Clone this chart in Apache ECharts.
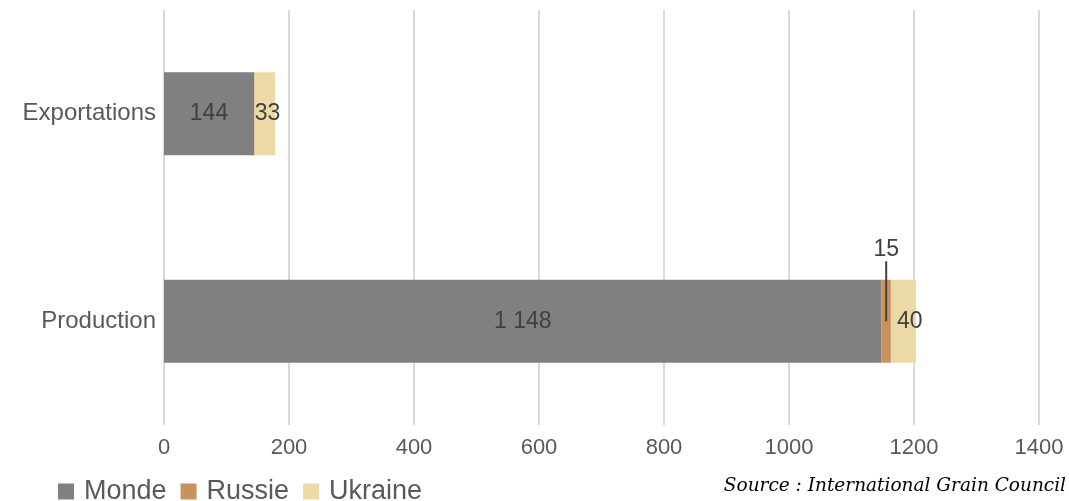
<!DOCTYPE html>
<html>
<head>
<meta charset="utf-8">
<script src="https://cdn.jsdelivr.net/npm/echarts@6/dist/echarts.min.js"></script>
<style>
  html, body { margin: 0; padding: 0; background: #fff; }
  #chart { width: 1069px; height: 501px; }
</style>
</head>
<body>
<div id="chart"></div>
<script>
// categories (bottom to top on the axis)
var categories = ['Production', 'Exportations'];
var seriesNames = ['Monde', 'Russie', 'Ukraine'];
var monde = [1148, 144];
var russie = [15, 1];
var ukraine = [40, 33];
var colors = ['#808080', '#c9915b', '#ebd9a6'];

var FONT = 'Liberation Sans, Arial, sans-serif';

function fmt(v) {
  return String(v).replace(/\B(?=(\d{3})+(?!\d))/g, ' ');
}

var chart = echarts.init(document.getElementById('chart'));

var labelBase = {
  show: true,
  position: 'inside',
  color: '#404040',
  fontSize: 23,
  fontFamily: FONT,
  formatter: function (p) { return fmt(p.value); }
};

var sourceText = {
  type: 'text',
  right: 3,
  bottom: 5,
  style: {
    text: 'Source : International Grain Council',
    font: 'italic 18.5px "DejaVu Serif", serif',
    fill: '#000'
  }
};

var option = {
  animation: false,
  grid: { left: 164, right: 30, top: 10, bottom: 76 },
  legend: {
    left: 53,
    top: 473,
    itemWidth: 16,
    itemHeight: 16,
    itemGap: 14,
    icon: 'rect',
    textStyle: { fontSize: 27, color: '#595959', fontFamily: FONT, padding: [0, 0, 0, 5] },
    data: seriesNames
  },
  xAxis: {
    type: 'value',
    min: 0,
    max: 1400,
    interval: 200,
    axisLine: { show: false },
    axisTick: { show: false },
    axisLabel: { fontSize: 22, color: '#595959', margin: 12, fontFamily: FONT,
      formatter: function (v) { return String(v); } },
    splitLine: { lineStyle: { color: '#d9d9d9', width: 2 } }
  },
  yAxis: {
    type: 'category',
    data: categories,
    axisLine: { show: false },
    axisTick: { show: false },
    axisLabel: { fontSize: 24, color: '#595959', margin: 8, fontFamily: FONT }
  },
  series: [
    {
      name: 'Monde', type: 'bar', stack: 'total', barWidth: '40%',
      itemStyle: { color: colors[0] },
      label: labelBase,
      data: monde
    },
    {
      name: 'Russie', type: 'bar', stack: 'total',
      itemStyle: { color: colors[1] },
      label: labelBase,
      labelLayout: function (p) {
        if (p.dataIndex === 0) {
          return { y: p.rect.y - 19, align: 'center', verticalAlign: 'bottom' };
        }
        return {};
      },
      data: [russie[0], { value: russie[1], label: { show: false } }]
    },
    {
      name: 'Ukraine', type: 'bar', stack: 'total',
      itemStyle: { color: colors[2] },
      label: echarts.util.extend(echarts.util.clone(labelBase), { position: 'insideLeft', distance: 6 }),
      data: [ukraine[0], { value: ukraine[1], label: { distance: 0 } }]
    }
  ],
  graphic: [sourceText]
};

chart.setOption(option);

// leader line for the "15" label: from the middle of the Russie segment up to the label
var mid = chart.convertToPixel({ gridIndex: 0 }, [monde[0] + russie[0] / 2, categories[0]]);
var barTop = mid[1] - 41;
chart.setOption({
  graphic: [sourceText, {
    type: 'line',
    shape: { x1: mid[0], y1: mid[1], x2: mid[0], y2: barTop - 19 },
    style: { stroke: '#404040', lineWidth: 2 },
    z: 100
  }]
});
</script>
</body>
</html>
